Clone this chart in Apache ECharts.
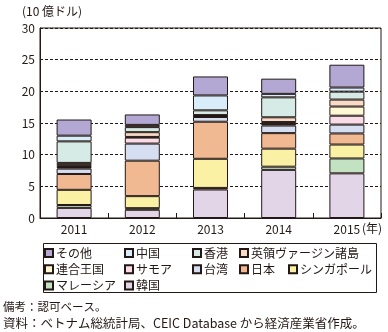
<!DOCTYPE html>
<html>
<head>
<meta charset="utf-8">
<script src="https://cdn.jsdelivr.net/npm/echarts@6/dist/echarts.min.js"></script>
<style>
html,body{margin:0;padding:0;background:#fff;}
#chart{width:388px;height:332px;}
</style>
</head>
<body>
<div id="chart"></div>
<script>
var categories = ['2011', '2012', '2013', '2014', '2015'];
var yTicks = [0, 5, 10, 15, 20, 25, 30];
// stacked from bottom to top
var korea     = [1.6, 1.3, 4.5, 7.6, 7.05];
var malaysia  = [0.45, 0.25, 0.25, 0.5, 2.35];
var singapore = [2.4, 1.9, 4.6, 2.85, 2.2];
var japan     = [2.5, 5.6, 5.85, 2.45, 1.75];
var taiwan    = [0.85, 2.7, 0.75, 1.2, 1.4];
var samoa     = [0.25, 0.95, 0.1, 0.25, 1.4];
var uk        = [0.3, 0.1, 0.1, 0.3, 1.45];
var bvi       = [0.35, 0.75, 0.1, 0.75, 1.1];
var hongkong  = [3.4, 0.8, 0.75, 3.15, 1.25];
var china     = [0.9, 0.35, 2.35, 0.55, 0.65];
var others    = [2.55, 1.65, 3.0, 2.4, 3.6];

var seriesDefs = [
  {name: '韓国', data: korea, color: '#e3d5e8'},
  {name: 'マレーシア', data: malaysia, color: '#c3e2c2'},
  {name: 'シンガポール', data: singapore, color: '#faf1a5'},
  {name: '日本', data: japan, color: '#f1b991'},
  {name: '台湾', data: taiwan, color: '#d5dff1'},
  {name: 'サモア', data: samoa, color: '#fadbe8'},
  {name: '連合王国', data: uk, color: '#fff8d5'},
  {name: '英領ヴァージン諸島', data: bvi, color: '#f9dac6'},
  {name: '香港', data: hongkong, color: '#d6ebe5'},
  {name: '中国', data: china, color: '#d8ecfa'},
  {name: 'その他', data: others, color: '#b2a8d3'}
];

var FONT = '"Noto Sans CJK JP", "Noto Sans", sans-serif';
var INK = '#231815';

var legendCols = [
  {left: 44, top: 246, names: ['その他', '連合王国', 'マレーシア']},
  {left: 124, top: 246, names: ['中国', 'サモア', '韓国']},
  {left: 192, top: 246, names: ['香港', '台湾']},
  {left: 239, top: 246, names: ['英領ヴァージン諸島', '日本']},
  {left: 288, top: 262.3, names: ['シンガポール']}
];

var chart = echarts.init(document.getElementById('chart'), null, {renderer: 'canvas'});
var option = {
  animation: false,
  backgroundColor: '#fff',
  textStyle: {fontFamily: FONT},
  grid: {left: 40, right: 7, top: 28, bottom: 114, show: true, borderColor: INK, borderWidth: 1, backgroundColor: 'transparent'},
  xAxis: {
    type: 'category',
    data: categories,
    axisLine: {lineStyle: {color: INK, width: 1}},
    axisTick: {show: true, inside: true, length: 5, lineStyle: {color: INK}},
    axisLabel: {color: INK, fontSize: 12, margin: 5, fontFamily: FONT},
    splitLine: {show: false}
  },
  yAxis: {
    type: 'value',
    min: yTicks[0], max: yTicks[yTicks.length - 1], interval: 5,
    axisLine: {show: true, lineStyle: {color: INK, width: 1}},
    axisTick: {show: false},
    axisLabel: {color: INK, fontSize: 12, margin: 5, fontFamily: FONT},
    splitLine: {show: true, lineStyle: {color: INK, width: 1, type: [3, 2]}}
  },
  legend: legendCols.map(function (c) {
    return {
      data: c.names,
      orient: 'vertical',
      left: c.left,
      top: c.top,
      padding: 0,
      itemGap: 2.3,
      itemWidth: 8,
      itemHeight: 8,
      icon: 'rect',
      selectedMode: false,
      textStyle: {color: INK, fontSize: 12, lineHeight: 14, fontFamily: FONT, padding: [0, 0, 0, -2]}
    };
  }),
  graphic: [
    {type: 'rect', shape: {x: 43.5, y: 243.5, width: 333, height: 49}, style: {fill: 'none', stroke: INK, lineWidth: 1}},
    {type: 'text', left: 22, top: 5, style: {text: '(10 億ドル)', fill: INK, font: '12px ' + FONT}},
    {type: 'text', left: 362, top: 222, style: {text: '(年)', fill: INK, font: '12px ' + FONT}},
    {type: 'text', left: 3, top: 301, style: {text: '備考：認可ベース。', fill: INK, font: '11.5px ' + FONT}},
    {type: 'text', left: 3, top: 317, style: {text: '資料：ベトナム総統計局、CEIC Database から経済産業省作成。', fill: INK, font: '12.5px ' + FONT}}
  ],
  series: seriesDefs.map(function (s) {
    return {
      name: s.name,
      type: 'bar',
      stack: 'total',
      barWidth: 35,
      data: s.data,
      itemStyle: {color: s.color, borderColor: INK, borderWidth: 1},
      emphasis: {disabled: true}
    };
  })
};
chart.setOption(option);
</script>
</body>
</html>
